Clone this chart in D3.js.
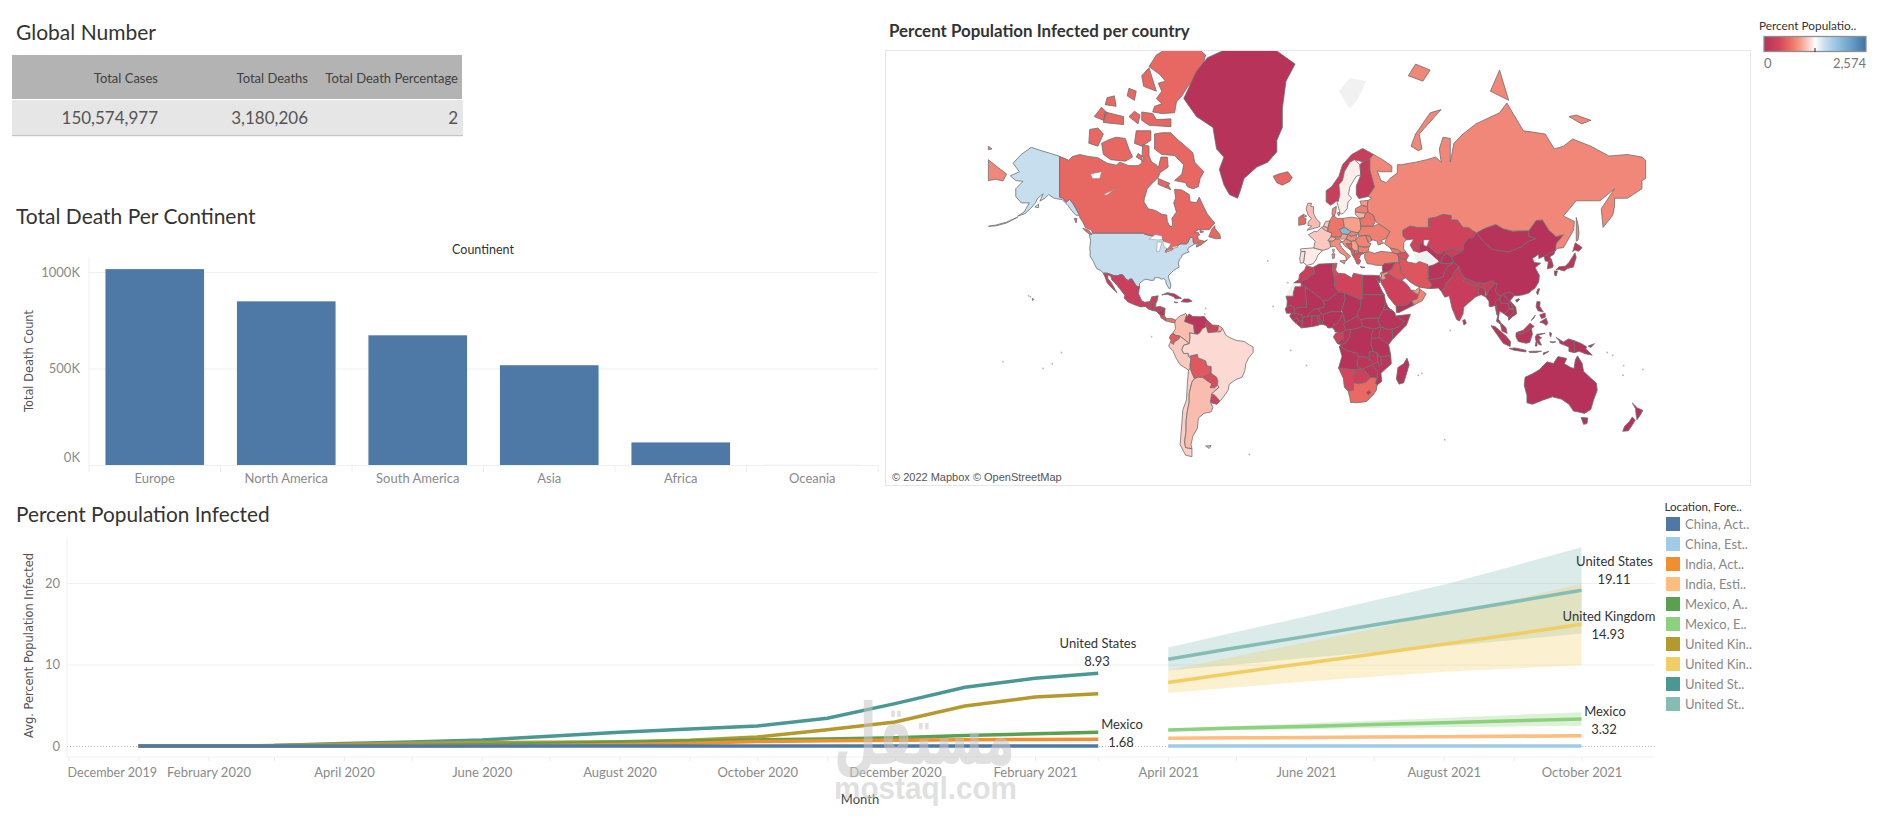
<!DOCTYPE html>
<html><head><meta charset="utf-8">
<script src="https://cdn.jsdelivr.net/npm/d3@7/dist/d3.min.js"></script>
<style>
html,body{margin:0;padding:0;background:#fff}
svg{display:block}
text{font-family:Lato,"Noto Sans",sans-serif}
.tick text{font-size:13px;fill:#8a8a8a;font-family:Lato,sans-serif}
.wide{font-family:"DejaVu Sans",sans-serif;font-size:11.4px;fill:#555}
</style></head><body>
<svg id="c" width="1881" height="825"></svg>
<script>
// ---------- table ----------
const tableHeaders = ["Total Cases","Total Deaths","Total Death Percentage"];
const tableValues = ["150,574,977","3,180,206","2"];
// ---------- bars ----------
const continents = ["Europe","North America","South America","Asia","Africa","Oceania"];
const totalDeaths = [1015000,848000,672000,517000,117000,200];
const barTicks = [0,500000,1000000];
// ---------- lines ----------
const actualMonths = ["2020-01","2020-02","2020-03","2020-04","2020-05","2020-06","2020-07","2020-08","2020-09","2020-10","2020-11","2020-12","2021-01","2021-02","2021-03"];
const forecastMonths = ["2021-04","2021-05","2021-06","2021-07","2021-08","2021-09","2021-10"];
const usActual = [0,0,0.05,0.3,0.5,0.74,1.2,1.7,2.1,2.45,3.4,5.2,7.2,8.3,8.93];
const ukActual = [0,0,0.05,0.22,0.35,0.42,0.46,0.52,0.7,1.1,2.0,2.95,4.9,6.0,6.4];
const mexicoActual = [0,0,0,0.01,0.05,0.15,0.3,0.45,0.6,0.75,0.85,1.0,1.3,1.5,1.68];
const indiaActual = [0,0,0,0,0.01,0.03,0.07,0.18,0.35,0.55,0.65,0.72,0.78,0.8,0.83];
const chinaActual = [0,0.01,0.01,0.01,0.01,0.01,0.01,0.01,0.01,0.01,0.01,0.01,0.01,0.01,0.01];
const usEst = [10.65,12.05,13.45,14.85,16.25,17.7,19.11];
const usHigh = [12.1,14.0,15.9,17.85,19.8,22.1,24.4];
const usLow = [9.26,10.0,10.8,11.5,12.2,13.0,13.8];
const ukEst = [7.8,9.0,10.15,11.3,12.5,13.7,14.93];
const ukHigh = [9.3,11.0,12.7,14.4,16.2,18.0,19.9];
const ukLow = [6.5,7.2,7.9,8.5,9.1,9.5,9.9];
const mexicoEst = [1.97,2.2,2.4,2.65,2.85,3.1,3.32];
const mexicoHigh = [2.1,2.45,2.8,3.1,3.45,3.8,4.14];
const mexicoLow = [1.85,1.95,2.05,2.2,2.3,2.4,2.5];
const indiaEst = [0.94,1.0,1.05,1.1,1.15,1.2,1.27];
const indiaHigh = [1.0,1.1,1.2,1.3,1.35,1.4,1.5];
const indiaLow = [0.88,0.9,0.95,0.98,1.0,1.03,1.05];
const chinaEst = [0.01,0.01,0.01,0.01,0.01,0.01,0.01];
const lineLegend = ["China, Act..","China, Est..","India, Act..","India, Esti..","Mexico, A..","Mexico, E..","United Kin..","United Kin..","United St..","United St.."];
const lineColors = ["#4e79a7","#a0cbe8","#f28e2b","#ffbe7d","#59a14f","#8cd17d","#b6992d","#f1ce63","#499894","#86bcb6"];
// ---------- map: value per country and outline as [lon,lat] rings ----------
const noData = -1;
const countryValues = {USA:1540,Canada:620,Greenland:20,Iceland:620,Mexico:260,Guatemala:200,Belize:300,Honduras:220,Nicaragua:60,Salvador:200,CostaRica:480,Panama:700,Cuba:120,Hispaniola:60,Colombia:1040,Venezuela:60,Guyana:300,Suriname:340,FrGuiana:1000,Ecuador:540,Peru:1100,Bolivia:520,Paraguay:440,Uruguay:340,Chile:1120,Argentina:1040,Brazil:1160,Morocco:240,WSahara:noData,Algeria:40,Tunisia:420,Libya:350,Egypt:30,Mauritania:60,Mali:10,Niger:5,Chad:5,Sudan:20,SSudan:20,Ethiopia:50,Eritrea:30,Somalia:20,Kenya:60,Uganda:20,Tanzania:5,DRC:10,Congo:60,Gabon:300,Cameroon:60,CAR:20,Nigeria:10,Benin:30,Togo:30,Ghana:50,Burkina:10,Ivory:30,Liberia:10,Leone:10,Guinea:20,Senegal:60,Angola:20,Zambia:90,Malawi:40,Mozambique:60,Zimbabwe:60,Botswana:290,Namibia:390,SouthAfrica:640,Lesotho:90,Madagascar:40,Spain:1220,Portugal:1180,France:1090,Belgium:1000,Netherlands:1080,Germany:700,Switzerland:1000,Austria:930,Italy:830,Denmark:800,UK:1040,Ireland:640,Norway:240,Sweden:1230,Finland:180,Estonia:900,Latvia:760,Lithuania:1000,Poland:920,Czechia:1950,Slovakia:800,Hungary:820,Romania:780,Bulgaria:760,Ukraine:760,Moldova:760,Belarus:700,Croatia:830,Bosnia:600,Serbia:920,Albania:540,NMacedonia:740,Greece:500,Turkey:760,Georgia:720,Azerbaijan:470,Iran:500,Iraq:500,Syria:40,Israel:1250,Jordan:880,SaudiArabia:300,Yemen:5,Oman:780,UAE:900,Kazakhstan:330,Uzbekistan:40,Turkmenistan:noData,Kyrgyzstan:250,Tajikistan:30,Afghanistan:40,Pakistan:70,India:230,Nepal:230,Bangladesh:90,SriLanka:70,China:8,Mongolia:30,Russia:800,Japan:90,SouthKorea:60,NorthKorea:2,Myanmar:30,Thailand:20,Laos:5,Vietnam:5,Cambodia:5,Malaysia:120,Indonesia:60,PNG:10,Philippines:60,Australia:10,NewZealand:8,Svalbard:noData};
const countryRings = {
USA:[[[-124.7,48.4],[-123,49],[-95.2,49],[-94.6,48.7],[-91.5,48.1],[-89.6,48],[-88.4,48.3],[-84.9,46.9],[-84.5,46.5],[-83.6,46.1],[-82.5,45.3],[-82.1,43.6],[-82.5,42.6],[-83.1,42.2],[-82.7,41.7],[-79,42.8],[-79.2,43.4],[-76.8,43.6],[-76.3,44.2],[-75,45],[-71.5,45],[-70.8,45.4],[-70.3,46.2],[-70,46.7],[-69.2,47.45],[-68.3,47.35],[-67.8,47.05],[-67.8,45.7],[-67,44.9],[-68.5,44.3],[-70,43.7],[-70.7,43],[-70.7,42.2],[-70,41.8],[-71.4,41.4],[-73.9,40.6],[-74.1,39.7],[-75.1,38.9],[-75.9,37.2],[-75.9,36.6],[-75.5,35.2],[-76.9,34.6],[-78.5,33.8],[-79.9,32.6],[-81.2,31.6],[-81.4,30.4],[-80.5,28.4],[-80,26.8],[-80.4,25.2],[-81.1,25.2],[-81.8,26.2],[-82.7,27.8],[-82.8,29],[-84,30.1],[-85.3,29.7],[-86.5,30.4],[-89,30.4],[-89.4,29.2],[-90.8,29.1],[-93.8,29.7],[-95,29.2],[-97.2,27.7],[-97.2,25.95],[-99.1,26.4],[-100.3,28.3],[-101.4,29.77],[-102.7,29.7],[-103.3,29],[-104.5,29.6],[-106.5,31.75],[-108.2,31.78],[-108.2,31.33],[-111.07,31.33],[-114.8,32.5],[-117.1,32.53],[-118.4,33.75],[-120.6,34.55],[-121.9,36.6],[-122.5,37.8],[-123.8,39.3],[-124.4,40.4],[-124.2,42],[-124.5,43],[-124,46.3]],
[[-141,69.65],[-141,60.3],[-139,60],[-137.5,58.9],[-135.5,59.7],[-133.5,58.4],[-131,56],[-130,55],[-132,55],[-134.5,56.5],[-136.5,58],[-139.5,59.6],[-144,60],[-147,61],[-149,60],[-151.8,59.2],[-150,61.2],[-153,60],[-154.5,58.5],[-157,57],[-160,55.5],[-164,54.7],[-160.5,56],[-157.5,58.7],[-162,58.7],[-165,60.5],[-165,62.5],[-161,64.3],[-165,64.5],[-168,65.6],[-163,66.5],[-166.5,68.3],[-162,70],[-156.5,71.3],[-152,70.8],[-146,70.2]],
[[-164,54.4],[-170,52.8],[-176,51.8],[-180,51.4],[-176,51.5],[-170,52.5]],[[-156,20.2],[-155,19.7],[-155.8,19]],[[-154.5,57.5],[-152.5,58.4],[-152.5,57.3]]],
Canada:[[[-141,69.65],[-136,68.9],[-134,69.6],[-130,70],[-125,69.6],[-120,69.4],[-115,68.3],[-110,67.9],[-108,68.5],[-103,67.8],[-98,67.8],[-96,68.3],[-95.5,71.8],[-92,71.5],[-92,69.7],[-90.5,68.5],[-88,68],[-87,67.3],[-85.5,69.5],[-82,69.5],[-81.5,67.5],[-86,66.3],[-87,65.2],[-90,64],[-93,62.5],[-94.5,60],[-94.8,59],[-92.5,57],[-88.5,56.5],[-85,55.3],[-82.3,55.1],[-82,53],[-80.5,51.3],[-79,51.5],[-79.5,54],[-77,56],[-78.5,58.7],[-77.5,60],[-78,62.4],[-74,62.2],[-70,61],[-69.5,59],[-66,58.8],[-64.5,60.3],[-62,57.5],[-60,55.3],[-56,52.5],[-59,50.2],[-65,50.2],[-67,49.3],[-65,49.2],[-64.3,48.3],[-65.5,47.9],[-64.8,46.5],[-61.5,46],[-60,46.5],[-63.5,44.6],[-66,43.7],[-66,44.6],[-64.5,45.5],[-67,44.9],[-67.8,45.7],[-67.8,47.05],[-68.3,47.35],[-69.2,47.45],[-70,46.7],[-70.3,46.2],[-70.8,45.4],[-71.5,45],[-75,45],[-76.3,44.2],[-76.8,43.6],[-79.2,43.4],[-79,42.8],[-82.7,41.7],[-83.1,42.2],[-82.5,42.6],[-82.1,43.6],[-82.5,45.3],[-83.6,46.1],[-84.5,46.5],[-84.9,46.9],[-88.4,48.3],[-89.6,48],[-91.5,48.1],[-94.6,48.7],[-95.2,49],[-123,49],[-123.5,50],[-127,51],[-128,52.5],[-130,54.3],[-130,55],[-131,56],[-133.5,58.4],[-135.5,59.7],[-137.5,58.9],[-139,60],[-141,60.3]],
[[-80,73.7],[-77,72.8],[-72,71.5],[-68,70.3],[-67,68.5],[-62,66.5],[-64,65],[-65,63],[-68,62.5],[-71,63],[-72,64],[-78,64.5],[-74,66],[-73,68],[-78,69.8],[-85,70],[-89,71],[-89,73.5],[-85,73.7],[-81,73.7]],
[[-117,70],[-113,69],[-105,68.7],[-101,69.5],[-103,71],[-105,72.8],[-110,73],[-114,72.6],[-118,72]],[[-125,72],[-120,71.5],[-117,73.5],[-120,74.4],[-124.5,74.2]],
[[-90,76.6],[-85,76.4],[-78,76.5],[-77,77.8],[-74,78.5],[-71,79.4],[-66,80.5],[-63,81.2],[-61,82.2],[-68,83],[-78,83],[-88,82.2],[-92,81.3],[-86,80.6],[-83,80],[-87,79.8],[-85,79],[-88,78.2],[-85,77.6],[-89,77.3]],
[[-96,75.5],[-92,74.8],[-80,74.6],[-80,75.7],[-88,75.6],[-90,76.4],[-96,76.6]],[[-95,79.5],[-88,79],[-92,81.2],[-96,80.5]],[[-117,75.2],[-106,74.9],[-106,76],[-116,76.6]],[[-100,72],[-96,71.5],[-91,72.5],[-91,74],[-99,74]],[[-87,65],[-80.5,63.8],[-83,62.8],[-87,63.6]],[[-103,76],[-98,75],[-97,76.2],[-100,76.7]],[[-122,76],[-117,75.5],[-115,76.5],[-118,77.2]],[[-104,78.5],[-100,78],[-99,79],[-103,79.3]],[[-116,77.5],[-110,77.3],[-111,78.5],[-115,78.3]],[[-99,69.5],[-95.5,68.8],[-95,69.5],[-98,70.2]],[[-83,62.9],[-80,62.2],[-81.5,63.5]],
[[-59.3,47.7],[-55.5,46.9],[-52.8,47],[-53.2,48.5],[-55.8,50.5],[-56,51.6],[-57.5,50.5]],[[-128.3,50.7],[-125,50],[-123.4,48.4],[-125,48.8],[-127,49.8]],[[-133,54],[-131.5,54],[-132,52.5]],[[-64,50],[-62,49.4],[-64,49.2]]],
Greenland:[[[-73,78.2],[-66,80.9],[-60,82],[-45,82.9],[-32,83.6],[-22,82.5],[-12,81.5],[-17,80],[-19,77],[-19,74.5],[-22,72.5],[-22,70.5],[-27,68.5],[-33,67.5],[-40,65],[-42,62],[-43.5,60],[-48,61],[-51,63.5],[-53.5,67],[-51,69.5],[-55,71],[-57,74.5],[-66,76]]],
Iceland:[[[-24,65.5],[-22,64],[-19,63.4],[-15,64.3],[-13.6,65.2],[-16,66.5],[-21,66]]],
Mexico:[[[-117.1,32.53],[-114.8,32.5],[-111.07,31.33],[-108.2,31.33],[-108.2,31.78],[-106.5,31.75],[-104.5,29.6],[-103.3,29],[-102.7,29.7],[-101.4,29.77],[-100.3,28.3],[-99.1,26.4],[-97.2,25.95],[-97.8,22.5],[-96,19],[-94.5,18.2],[-91.5,18.5],[-90.5,21],[-87,21.5],[-87.8,18.2],[-89.1,17.9],[-91,17.2],[-90.9,16],[-92.2,14.55],[-94,16],[-96.5,15.7],[-100,16.9],[-103.5,18.3],[-105.6,20.4],[-105.3,21.8],[-108,25],[-109.5,26.7],[-112.5,29.5],[-113,31.2],[-114.7,31.7],[-114.5,30],[-112.5,27.8],[-110.5,24.5],[-109.5,23.1],[-112,25],[-115,28],[-116,30.5]]],
Guatemala:[[[-92.2,14.55],[-90.9,16],[-91,17.2],[-89.1,17.9],[-89.2,15.9],[-88.2,15.7],[-89.3,14.4],[-90.1,13.8]]],Belize:[[[-89.1,17.9],[-88.2,18.4],[-88.3,16.2],[-89.2,15.9]]],
Honduras:[[[-89.3,14.4],[-88.2,15.7],[-86,16],[-83.2,15],[-85,14],[-87.5,13]]],Nicaragua:[[[-87.5,13],[-85,14],[-83.2,15],[-83.6,11],[-85.7,11]]],Salvador:[[[-90.1,13.8],[-89.3,14.4],[-87.7,13.4]]],
CostaRica:[[[-85.7,11],[-83.6,11],[-82.6,9.6],[-83,8.3],[-85.5,10]]],Panama:[[[-83,8.3],[-82.6,9.6],[-79.5,9.5],[-77.4,8.7],[-77.9,7.2],[-80,7.5],[-81,7.8]]],
Cuba:[[[-85,21.9],[-82,23.1],[-78,22.4],[-74.2,20.2],[-77.5,19.9],[-78.5,21],[-82,22.3]]],Hispaniola:[[[-74.4,18.4],[-73,19.9],[-70,19.8],[-68.4,18.6],[-71,18.2]],[[-78.3,18.4],[-76.3,18.1],[-77.2,17.8]]],
Colombia:[[[-77.4,8.7],[-75.5,10.7],[-72,12.2],[-71.3,11.5],[-72.5,8],[-70,7],[-67.5,6.2],[-67.3,3.5],[-67,1.2],[-69.8,1.7],[-69.5,-0.6],[-70,-4.2],[-72,-2.4],[-75.2,-0.1],[-77.5,0.4],[-79,1.5],[-77.5,4],[-77.9,7.2]]],
Venezuela:[[[-71.3,11.5],[-71.7,10],[-70,12],[-68,10.6],[-64,10.5],[-61.8,10.7],[-60.1,8.5],[-61,6.5],[-60.7,5.2],[-63,3.8],[-64,1.9],[-65.5,0.9],[-67,1.2],[-67.3,3.5],[-67.5,6.2],[-70,7],[-72.5,8]]],
Guyana:[[[-60.1,8.5],[-57.2,6],[-58,4],[-57.3,2],[-59.7,1.8],[-60.7,5.2],[-61,6.5]]],Suriname:[[[-57.2,6],[-54,5.8],[-54.4,2.3],[-57.3,2],[-58,4]]],FrGuiana:[[[-54,5.8],[-51.7,4.2],[-52.9,2.2],[-54.4,2.3]]],
Ecuador:[[[-80.9,-1],[-80,0.8],[-79,1.5],[-77.5,0.4],[-75.2,-0.1],[-75.6,-1.6],[-78.3,-3.4],[-78.6,-4.6],[-80.3,-3.4],[-80,-2.5]]],
Peru:[[[-80.3,-3.4],[-78.6,-4.6],[-78.3,-3.4],[-75.6,-1.6],[-75.2,-0.1],[-72,-2.4],[-70,-4.2],[-73,-5],[-74,-7.5],[-73,-9.5],[-70.5,-9.5],[-70.5,-11],[-69,-12.5],[-69.5,-15.5],[-69.4,-17.5],[-70.4,-18.3],[-75,-15.5],[-77.2,-12],[-79,-8],[-81.3,-5.5]]],
Bolivia:[[[-69.5,-10.9],[-65.5,-10],[-65.3,-11.8],[-61,-13.5],[-60.2,-16.2],[-58,-16.5],[-58,-20],[-62.5,-22.2],[-65,-22],[-67.2,-22.8],[-68.5,-20],[-69.4,-17.5],[-69.5,-15.5],[-69,-12.5]]],
Paraguay:[[[-58,-20],[-55,-22],[-54.3,-24],[-54.6,-25.6],[-56,-27.3],[-58.6,-27.2],[-57.6,-25.3],[-60,-24],[-62.5,-22.2]]],
Uruguay:[[[-58.4,-33.9],[-57.7,-30.2],[-56,-30.8],[-53.2,-33.5],[-54.9,-35],[-58.4,-34.2]]],
Chile:[[[-69.4,-17.5],[-68.5,-20],[-67.2,-22.8],[-68.5,-24.5],[-70,-30],[-70,-34],[-71,-38],[-71.7,-42],[-71.7,-46],[-72.5,-50],[-72,-52],[-68.5,-52.4],[-68.5,-55],[-72,-54.5],[-75,-51],[-74,-43],[-73.5,-37.5],[-71.5,-33],[-71,-25],[-70.4,-18.3]]],
Argentina:[[[-67.2,-22.8],[-65,-22],[-62.5,-22.2],[-60,-24],[-57.6,-25.3],[-58.6,-27.2],[-56,-27.3],[-54.6,-25.6],[-53.7,-27],[-57.7,-30.2],[-58.4,-33.9],[-57,-36.5],[-58,-38.3],[-62,-39],[-65,-41],[-65.5,-45],[-68,-48],[-69,-51],[-68.5,-52.4],[-72,-52],[-72.5,-50],[-71.7,-46],[-71.7,-42],[-71,-38],[-70,-34],[-70,-30],[-68.5,-24.5]],[[-61,-51.5],[-58,-51.3],[-59,-52.3]]],
Brazil:[[[-60.7,5.2],[-59.7,1.8],[-57.3,2],[-54.4,2.3],[-52.9,2.2],[-51.7,4.2],[-50,0.5],[-48,-0.8],[-44,-2.5],[-40,-2.9],[-37,-4.9],[-35,-6],[-35,-9],[-37.5,-12],[-39,-15],[-39.5,-18.5],[-41,-22],[-44.5,-23.2],[-48,-25.5],[-48.7,-28.5],[-52,-32.5],[-53.2,-33.5],[-56,-30.8],[-57.7,-30.2],[-53.7,-27],[-54.6,-25.6],[-54.3,-24],[-55,-22],[-58,-20],[-58,-16.5],[-60.2,-16.2],[-61,-13.5],[-65.3,-11.8],[-65.5,-10],[-69.5,-10.9],[-70.5,-11],[-70.5,-9.5],[-73,-9.5],[-74,-7.5],[-73,-5],[-70,-4.2],[-69.5,-0.6],[-69.8,1.7],[-67,1.2],[-65.5,0.9],[-64,1.9],[-63,3.8]]],
Morocco:[[[-5.9,35.8],[-2.2,35.1],[-1.2,32.5],[-3.5,31.5],[-5,30],[-8.7,28.7],[-8.7,27.7],[-13,27.7],[-10,29.5],[-9.5,32],[-6.8,34]]],
WSahara:[[[-13,27.7],[-8.7,27.7],[-8.7,26],[-12,26],[-13,23],[-13,21.3],[-17,21.3],[-16,23.5],[-14.5,26]]],
Algeria:[[[-2.2,35.1],[1,36.6],[8.6,36.9],[8.3,34.5],[9.5,30.2],[9.8,26],[11.9,23.5],[6,19.4],[3.3,19],[1.2,20.7],[-4.8,25],[-8.7,27.3],[-8.7,28.7],[-5,30],[-3.5,31.5],[-1.2,32.5]]],
Tunisia:[[[8.6,36.9],[11,37],[10.2,34],[11.5,32.5],[9.5,30.2],[8.3,34.5]]],
Libya:[[[11.5,32.5],[15.3,32.2],[19,30.3],[20,32.5],[25,31.6],[25,20],[24,19.5],[15,23],[11.9,23.5],[9.8,26],[9.5,30.2]]],
Egypt:[[[25,31.6],[31,31.5],[34.2,31.3],[34.9,29.5],[34,27.8],[32.6,29.9],[35.5,24],[36.9,22],[25,22]]],
Mauritania:[[[-17,21.3],[-13,21.3],[-13,23],[-12,26],[-8.7,26],[-8.7,27.3],[-4.8,25],[-6.5,25],[-5.5,15.5],[-9.3,15.5],[-12.2,14.7],[-14.5,16.6],[-16.5,16],[-16.3,19]]],
Mali:[[[-4.8,25],[1.2,20.7],[3.3,19],[4.2,16.8],[3.5,15.4],[0.2,14.9],[-2,14.2],[-4.5,12],[-5.5,10.5],[-8,10.2],[-8.5,11.5],[-12.2,12.4],[-12.2,14.7],[-9.3,15.5],[-5.5,15.5],[-6.5,25]]],
Niger:[[[3.5,15.4],[4.2,16.8],[3.3,19],[6,19.4],[11.9,23.5],[15,23],[15.5,20],[13.5,14],[13,13.3],[7,13],[3.6,11.7],[2.4,12.2],[0.2,14.9]]],
Chad:[[[15,23],[24,19.5],[24,15.7],[22.5,13],[22,11],[19,9],[15.5,7.5],[14,12.5],[13.5,14],[15.5,20]]],
Sudan:[[[24,19.5],[25,20],[25,22],[36.9,22],[37.5,18.5],[36.5,14.3],[34.2,10.5],[33,9.7],[31,9.7],[27,9.7],[24,8.7],[22,11],[22.5,13],[24,15.7]]],
SSudan:[[[24,8.7],[27,9.7],[33,9.7],[34.2,10.5],[33.5,7.8],[35,5],[31,3.7],[28,4.5],[25,5.2]]],
Eritrea:[[[36.5,14.3],[37.5,18.5],[39,15.5],[42.7,12.5],[41,14]]],
Ethiopia:[[[36.5,14.3],[41,14],[42.7,12.5],[43,10.9],[47.9,8],[45,5],[42,4],[39,3.5],[35,5],[33.5,7.8],[34.2,10.5]]],
Somalia:[[[43,10.9],[51.2,11.8],[49,6],[41.5,-1.7],[41,3.8],[42,4],[45,5],[47.9,8]]],
Kenya:[[[35,5],[39,3.5],[42,4],[41,3.8],[41.5,-1.7],[39.2,-4.7],[34,-1],[34,1]]],
Uganda:[[[31,3.7],[35,5],[34,1],[34,-1],[29.7,-1.4],[30,1.5]]],
Tanzania:[[[34,-1],[39.2,-4.7],[40.4,-10.5],[34.9,-11.5],[32.9,-9.4],[30.7,-8.2],[29.5,-4.5],[29.7,-1.4]]],
DRC:[[[12.2,-6],[13,-4.8],[16,-3.5],[17.7,-0.5],[18.5,3.5],[22,4.2],[25,5.2],[28,4.5],[31,3.7],[30,1.5],[29.7,-1.4],[29.5,-4.5],[30.7,-8.2],[28.5,-9],[28.5,-12],[29.8,-13.4],[27.2,-11.7],[24,-11],[22,-11],[22,-9.5],[16.5,-8],[13,-5.8]]],
Congo:[[[11.2,-4.2],[13,-4.8],[16,-3.5],[17.7,-0.5],[18.5,3.5],[16,3.4],[14,2.2],[14.5,-1.5],[12.5,-2.3]]],
Gabon:[[[9,-0.5],[9.8,1],[11.3,2.2],[14,2.2],[14.5,-1.5],[12.5,-2.3],[11.2,-4.2]]],
Cameroon:[[[8.5,4.5],[9.8,3],[9.8,2.2],[14,2.2],[16,3.4],[14.5,6.2],[15.5,7.5],[14,12.5],[13,10],[11,6.7],[9,6.3]]],
CAR:[[[14.5,6.2],[16,3.4],[18.5,3.5],[22,4.2],[25,5.2],[24,8.7],[22,11],[19,9],[15.5,7.5]]],
Nigeria:[[[2.7,6.4],[5,5.8],[6,4.4],[8.5,4.5],[9,6.3],[11,6.7],[13,10],[14,12.5],[13,13.3],[7,13],[3.6,11.7],[3.6,9]]],
Benin:[[[1.7,6.3],[2.7,6.4],[3.6,9],[3.6,11.7],[2.4,12.2],[0.9,11],[1.6,9]]],Togo:[[[0.9,11],[1.6,9],[1.7,6.3],[1.2,6.1],[0.5,8.5],[0.1,11.1]]],
Ghana:[[[-3,5.1],[0.5,5.8],[1.2,6.1],[0.5,8.5],[0.1,11.1],[-2.8,11],[-2.9,8]]],Burkina:[[[-5.5,10.5],[-4.5,12],[-2,14.2],[0.2,14.9],[2.4,12.2],[0.9,11],[-2.8,11]]],
Ivory:[[[-8.5,4.4],[-3,5.1],[-2.9,8],[-2.8,11],[-5.5,10.5],[-8,10.2],[-8,7.7]]],Liberia:[[[-11.5,6.9],[-8.5,4.4],[-8,7.7],[-10,8.5]]],Leone:[[[-13.2,8.5],[-11.5,6.9],[-10,8.5],[-11,10]]],
Guinea:[[[-15,10.9],[-13.2,8.5],[-11,10],[-10,8.5],[-8,7.7],[-8,10.2],[-8.5,11.5],[-12.2,12.4],[-13.7,12.6]]],Senegal:[[[-17.4,14.7],[-16.5,16],[-14.5,16.6],[-12.2,14.7],[-12.2,12.4],[-16.7,12.4]]],
Angola:[[[12.2,-6],[13,-5.8],[16.5,-8],[22,-9.5],[22,-11],[24,-11],[22,-13],[22,-16],[23.3,-17.6],[20.9,-18.3],[14,-17.4],[11.8,-17.3],[13.7,-11]]],
Zambia:[[[24,-11],[27.2,-11.7],[29.8,-13.4],[28.5,-12],[28.5,-9],[30.7,-8.2],[32.9,-9.4],[33.2,-14],[30.2,-15.6],[28,-16.5],[25.2,-17.8],[23.3,-17.6],[22,-16],[22,-13]]],
Malawi:[[[32.9,-9.4],[34.9,-11.5],[35.5,-15],[34.3,-16.5],[33.2,-14]]],
Mozambique:[[[34.9,-11.5],[40.4,-10.5],[40.7,-15],[35,-20],[35.5,-24],[32.9,-26],[32,-25],[32.9,-22.4],[33,-19],[30.2,-15.6],[33.2,-14],[34.3,-16.5],[35.5,-15]]],
Zimbabwe:[[[25.2,-17.8],[28,-16.5],[30.2,-15.6],[33,-19],[32.9,-22.4],[29.3,-22.2]]],
Botswana:[[[20.9,-18.3],[23.3,-17.6],[25.2,-17.8],[29.3,-22.2],[26.5,-24.7],[23,-25.3],[20,-24.8],[20,-22]]],
Namibia:[[[11.8,-17.3],[14,-17.4],[20.9,-18.3],[20,-22],[20,-28.4],[17,-28.8],[15,-27],[14.4,-22.5]]],
SouthAfrica:[[[17,-28.8],[20,-28.4],[20,-24.8],[23,-25.3],[26.5,-24.7],[29.3,-22.2],[32.9,-22.4],[32,-25],[32.9,-26],[32.5,-28.5],[30.5,-31],[27,-33.8],[22,-34.3],[18.4,-34.2],[18,-32]]],
Lesotho:[[[27.2,-29.5],[28.6,-28.6],[29.4,-29.6],[28,-30.6]]],
Madagascar:[[[49.3,-12],[50.5,-15.5],[47.5,-24.8],[45,-25.5],[43.5,-23],[44.3,-17],[47.5,-15]]],
Spain:[[[-9,43],[-1.8,43.4],[3.2,42.4],[0.5,40.5],[-0.3,38.8],[-2,36.8],[-5.5,36],[-7.4,37.2],[-7,39.5],[-6.5,42],[-8.8,41.9]]],
Portugal:[[[-8.8,41.9],[-6.5,42],[-7,39.5],[-7.4,37.2],[-9,37],[-9.5,38.8]]],
France:[[[-1.8,43.4],[3.2,42.4],[6,43],[7.5,43.8],[7,46],[6,46.2],[7.6,47.6],[8.2,49],[6,49.6],[4.5,50],[2.5,51],[0,49.5],[-1.5,49.6],[-4.7,48.4],[-1,46]],[[8.6,42.9],[9.5,42.8],[9.2,41.4],[8.7,41.8]]],
Belgium:[[[2.5,51],[4.5,50],[6,49.6],[6,50.8],[4,51.4]]],Netherlands:[[[3.5,51.4],[4,51.4],[6,50.8],[7,53.2],[4.7,53]]],
Germany:[[[6,50.8],[6,49.6],[8.2,49],[7.6,47.6],[9.6,47.5],[13,47.5],[13.8,48.8],[12.2,50.2],[15,51],[14.2,54],[11,54],[9.5,54.8],[8.5,54.8],[7,53.2]]],
Switzerland:[[[6,46.2],[7.6,47.6],[9.6,47.5],[10.4,46.8],[8.5,46],[7,46]]],Austria:[[[9.6,47.5],[13,47.5],[13.8,48.8],[17,48.5],[16,46.8],[12,46.8],[10.4,46.8]]],
Italy:[[[7.5,43.8],[10,44],[12.5,41.5],[15.8,40],[16,38],[17,39],[18.4,40],[16,41.5],[13.5,43.6],[12.3,45.3],[13.7,45.7],[12,46.8],[10.4,46.8],[8.5,46],[7,46]],[[12.5,38],[15.6,38.2],[15,36.7]],[[8.2,41],[9.8,41],[9.5,39.2],[8.5,39]]],
Denmark:[[[8.2,55.5],[8.5,57],[10.6,57.7],[10.3,56],[9.5,54.8],[8.5,54.8]],[[11,55.7],[12.6,56],[12,54.8]]],
UK:[[[-5.5,50],[1.4,51.2],[1.7,52.7],[0,53.5],[-1.5,55],[-2,56],[-1.9,57.6],[-3.5,57.7],[-3,58.6],[-5,58.6],[-6,57],[-4.8,55],[-3,54],[-4.8,52.8],[-5,51.7],[-3,51.4]],[[-8,54.4],[-5.6,54.7],[-7.3,55.3]]],
Ireland:[[[-10,51.7],[-6.2,52.2],[-6,54],[-8,54.4],[-7.3,55.3],[-10,54.3]]],
Norway:[[[5,59],[7.5,58],[10.5,59.2],[11.7,59.2],[12.5,61],[12,63.5],[14,64.5],[15,66.5],[18,68.5],[20.5,69],[25,68.6],[29,69.2],[31,70],[25,71.1],[19,70],[14,68],[12,65.5],[8,63],[5,62]]],
Sweden:[[[11.7,59.2],[11,58.8],[12.8,55.4],[14.3,55.5],[16.5,57],[17,59],[19,60],[17.2,61],[18,63],[21.5,65.5],[24,65.8],[23.5,68],[20.5,69],[18,68.5],[15,66.5],[14,64.5],[12,63.5],[12.5,61]]],
Finland:[[[24,65.8],[21.5,63.2],[21.5,61],[23,59.9],[28,60.5],[31.5,62.9],[29,66.9],[29,69.2],[25,68.6],[23.5,68]]],
Estonia:[[[23.5,59.2],[28,59.4],[27.5,57.6],[24.3,58]]],Latvia:[[[21,57],[24.3,58],[27.5,57.6],[28,56],[26.6,55.6],[21,56]]],Lithuania:[[[21,56],[26.6,55.6],[25.8,54.2],[23.5,54],[21,55.2]]],
Poland:[[[14.2,54],[19,54.4],[23.5,54],[24,51.5],[24,50.5],[22.7,49.1],[18.8,49.5],[15,51]]],
Czechia:[[[12.2,50.2],[15,51],[18.8,49.5],[17,48.5],[13.8,48.8]]],Slovakia:[[[17,48.5],[18.8,49.5],[22.7,49.1],[22,48.4],[18.7,47.8]]],
Hungary:[[[16,46.8],[17,48.5],[18.7,47.8],[22,48.4],[21,46.2],[18.8,45.9]]],Romania:[[[21,46.2],[22.8,47.9],[26.6,48.2],[28.2,45.5],[29.6,45],[28.5,43.7],[25,43.7],[22.5,44.2]]],
Bulgaria:[[[22.5,44.2],[25,43.7],[28.5,43.7],[28,42],[26,41.4],[23,41.4],[22.5,42.2]]],
Ukraine:[[[22.7,49.1],[24,50.5],[24,51.5],[30.5,51.4],[34,52.2],[40,49.6],[38,47.1],[35,46.2],[36.5,45.3],[33.5,44.5],[33,46],[30.7,46.5],[30,46.4],[29,47.9],[26.6,48.2],[22.8,47.9]]],
Moldova:[[[26.6,48.2],[29,47.9],[30,46.4],[28.2,45.5]]],Belarus:[[[23.5,54],[25.8,54.2],[26.6,55.6],[28,56],[31,55],[32,53],[30.5,51.4],[24,51.5]]],
Croatia:[[[13.7,45.7],[16,46.8],[18.8,45.9],[19,45],[16,45],[18.5,42.5],[15,44.3]]],Bosnia:[[[16,45],[19,45],[19,43.5],[18.5,42.5]]],Serbia:[[[18.8,45.9],[21,46.2],[22.5,44.2],[22.5,42.2],[20.5,42.2],[19,43.5],[19,45]]],
Albania:[[[18.5,42.5],[19,43.5],[20.5,42.2],[20.7,40.8],[20,39.7],[19.3,40.5]]],NMacedonia:[[[20.5,42.2],[22.5,42.2],[23,41.4],[20.7,40.8]]],
Greece:[[[20,39.7],[20.7,40.8],[23,41.4],[26,41.4],[24,40.5],[23,39],[24,38],[23,36.5],[21.7,36.8],[21,38.3]],[[23.6,35.5],[26.2,35.2],[24.7,34.9]]],
Turkey:[[[26,39.5],[26.2,41],[28,42],[31.5,41.2],[35,42],[41.5,41.5],[43.7,41],[44.8,39.7],[44.8,37.2],[42.4,37.2],[36.7,36.7],[36,36],[32,36.1],[30.5,36.5],[27.5,36.8]]],
Georgia:[[[40,43.4],[41.5,41.5],[43.7,41],[46.5,41.5],[44,42.8]]],Azerbaijan:[[[44.8,39.7],[43.7,41],[46.5,41.5],[48.6,41.8],[50.3,40.3],[48.9,38.4],[46,38.9]]],
Iran:[[[44.8,39.7],[46,38.9],[48.9,38.4],[49.5,37.5],[54,36.9],[56,38],[61,36.5],[61,35.6],[61,31.5],[61,29.5],[63,27],[61.6,25.1],[57,25.7],[54,26.6],[50.8,28.5],[48.5,30.3],[46,33],[45.5,35.8],[44.8,37.2]]],
Iraq:[[[42.4,37.2],[44.8,37.2],[45.5,35.8],[46,33],[48.5,30.3],[47.7,30],[46.5,29.1],[44.7,29.2],[39,32.2],[38.7,33.3],[41,34.5]]],
Syria:[[[36,36],[36.7,36.7],[42.4,37.2],[41,34.5],[38.7,33.3],[36.2,32.5],[35.7,35]]],Israel:[[[34.3,31.3],[35.1,33],[35.6,33],[35,29.6]]],Jordan:[[[35,29.6],[35.6,33],[36.2,32.5],[38.7,33.3],[39,32.2],[37,31.5],[38,30],[36,29.2]]],
SaudiArabia:[[[34.9,29.5],[36,29.2],[38,30],[37,31.5],[39,32.2],[44.7,29.2],[46.5,29.1],[47.7,28.5],[50,26.5],[51.5,24.3],[55.5,22],[55,20],[52,19],[49,16.8],[43.3,16.5],[42.7,16.7],[39,21],[37,25],[35,28]]],
Yemen:[[[43.3,16.5],[49,16.8],[52,19],[53.1,16.7],[45,12.8],[43.5,12.7]]],Oman:[[[55,20],[55.5,22],[56.3,24.9],[59.8,22.5],[57.7,19],[53.1,16.7],[52,19]]],UAE:[[[51.5,24.3],[54,24.2],[56.3,26],[56.3,24.9],[55.5,22]]],
Kazakhstan:[[[47,50],[47,48],[49,46.5],[53,46.8],[51,44.5],[53,42],[56,41.3],[56,45],[59,45.5],[61,44],[66,41],[68,41],[70,42.5],[71,42.8],[74,43.2],[80,42.3],[80.5,45],[83,47.2],[85.5,47.2],[87.3,49.1],[85,50],[83,51],[80,51],[77,53.5],[73.5,53.5],[73.5,54.9],[69,55.3],[65,54.4],[61,54],[61,51],[55,51],[51,51.5]]],
Uzbekistan:[[[56,41.3],[56,45],[59,45.5],[61,44],[66,41],[68,41],[70,42.5],[71,41.3],[69,40],[67.8,37.2],[66.5,37.4],[66.5,38],[62,41],[60,42.2]]],
Turkmenistan:[[[53,42],[56,41.3],[60,42.2],[62,41],[66.5,38],[66.5,37.4],[64,36.3],[61,35.6],[61,36.5],[56,38],[54,36.9],[53.8,39.5]]],
Kyrgyzstan:[[[70,42.5],[71,42.8],[74,43.2],[80,42.3],[73.7,39.5],[71,41.3]]],Tajikistan:[[[67.8,37.2],[69,40],[71,41.3],[73.7,39.5],[75,37.4],[71.5,36.7],[68,37]]],
Afghanistan:[[[61,35.6],[64,36.3],[66.5,37.4],[68,37],[71.5,36.7],[75,37.4],[71.5,35.5],[70,33.5],[69.2,31],[66.4,29.9],[61,29.5],[61,31.5]]],
Pakistan:[[[61,29.5],[66.4,29.9],[69.2,31],[70,33.5],[71.5,35.5],[75,37.4],[77.8,35.5],[74.5,32.5],[74.5,31],[71,28],[70,25.7],[68.2,23.7],[66.5,25.4],[61.6,25.1],[63,27]]],
India:[[[68.2,23.7],[70,25.7],[71,28],[74.5,31],[74.5,32.5],[77.8,35.5],[79,32.5],[81,30.2],[80.3,28.7],[84,27.4],[88,26.4],[88.3,28],[92,27.8],[96.5,29],[97.3,27.8],[94,24],[93,22],[92,24.5],[91.5,25.2],[89,26],[88.3,24.3],[89,21.8],[87,21],[85,19.5],[80.3,15.5],[80,12],[78,8.2],[76.5,9],[74,15],[72.8,20],[72.5,21.5],[70,20.8],[69,22.3]]],
Nepal:[[[80.3,28.7],[81,30.2],[88,27.8],[88,26.4],[84,27.4]]],Bangladesh:[[[88.3,24.3],[89,26],[91.5,25.2],[92,24.5],[92.3,21],[90,22],[89,21.8]]],SriLanka:[[[79.8,8.5],[81,9],[81.8,7],[80.5,6]]],
China:[[[73.7,39.5],[80,42.3],[80.5,45],[83,47.2],[85.5,47.2],[87.3,49.1],[91,46],[96,42.8],[105,41.7],[111.5,43.7],[116,46],[120,47],[116,47.8],[116,49.8],[120,53.3],[123.5,53.5],[127,50],[131,47.7],[135,48.4],[131,45],[130.6,42.4],[128,41.4],[124.4,40],[121.5,39],[121.5,40.8],[118,39],[119,37.3],[122.5,37],[119.5,35],[121.8,31.5],[121.5,28.5],[119.5,25.5],[116,22.9],[113,22],[109.5,21.5],[108,21.6],[106.7,22.8],[105.3,23.3],[102,22.4],[101.2,21.3],[99.2,22],[97.6,24],[98.7,27.5],[97.3,27.8],[96.5,29],[92,27.8],[88.3,28],[88,27.8],[81,30.2],[79,32.5],[77.8,35.5],[75,37.4]],[[108.7,19.3],[110.5,20],[111,19.6],[109.5,18.2]],[[121,25],[122,25],[120.9,22],[120.2,23]]],
Mongolia:[[[87.3,49.1],[92,50.7],[98,52],[102,50.5],[107,49.7],[113,49.8],[116,49.8],[116,47.8],[120,47],[116,46],[111.5,43.7],[105,41.7],[96,42.8],[91,46]]],
Russia:[[[29,69.2],[31,70],[36,69],[41,67.7],[41,66.5],[35,66.5],[33,66.7],[35,64.5],[38,64],[40,65],[44,66.2],[44,68],[46,68],[54,68.5],[60,69],[65,69.5],[68,68.5],[67,71],[69,73],[73,72.8],[73,68.5],[75,72],[80,73.5],[87,75],[100,76.5],[104,77.7],[113,74],[125,73.5],[130,71],[135,71.5],[140,72.7],[150,71.5],[160,69.7],[170,70],[178,69.5],[180,68.9],[180,65],[178,64.5],[178,62.5],[170,60],[163,60],[163,57.8],[162,55],[156.7,51],[155.7,57],[163,62.5],[155,59.3],[142,59.3],[135,54.8],[141,53],[140.5,50],[135,43.5],[131.7,43.2],[130.6,42.4],[131,45],[135,48.4],[131,47.7],[127,50],[123.5,53.5],[120,53.3],[116,49.8],[113,49.8],[107,49.7],[102,50.5],[98,52],[92,50.7],[87.3,49.1],[85,50],[83,51],[80,51],[77,53.5],[73.5,53.5],[73.5,54.9],[69,55.3],[65,54.4],[61,54],[61,51],[55,51],[51,51.5],[47,50],[47,48],[49,46.5],[47.5,45.5],[47.5,43],[48.6,41.8],[46.5,41.5],[44,42.8],[40,43.4],[37,45],[38,47.1],[40,49.6],[34,52.2],[32,53],[31,55],[28,56],[27.5,57.6],[28,59.4],[30,60],[28,60.5],[31.5,62.9],[29,66.9]],
[[142,54.3],[143,52],[143.5,49],[143,46.5],[142,46],[142,50]],[[51.5,71.5],[55.5,70.7],[57.5,71],[56,73.5],[68,76.9],[62,76.5],[54,73.5]],[[95,79],[105,78],[100,81]],[[-180,69],[-175,67.5],[-170,66],[-172,64.4],[-176,64.8],[-180,64.5]],[[-180,71.5],[-178,71],[-180,70.9]],[[50,80.5],[58,80],[62,81],[54,81.5]],[[138,76],[145,75],[150,75.5],[142,76.2]]],
Japan:[[[130.9,34],[132.5,35.4],[136,35.7],[138,37.3],[140,39.8],[141.3,41.4],[142,39.5],[141,37],[140.5,35.3],[137,34.6],[135.5,33.5],[132.5,34.2]],[[130,33.5],[131.7,33.5],[131,31.2],[130.2,31.5]],[[140,41.8],[141.5,45.4],[145.3,43.5],[143.2,42],[141,42.6]]],
SouthKorea:[[[126.2,34.5],[126.7,37.7],[128.4,38.6],[129.4,36],[129,35.1]]],NorthKorea:[[[124.4,40],[128,41.4],[130.6,42.4],[129.7,40.8],[127.5,39.7],[128.4,38.6],[126.7,37.7],[125,38]]],
Myanmar:[[[92.3,21],[93,22],[94,24],[97.3,27.8],[98.7,27.5],[97.6,24],[99.2,22],[101.2,21.3],[100,20.4],[97.7,18.5],[98.5,15],[99,11],[98.5,11.5],[97.5,16.5],[95.4,15.8],[94.3,16],[94.2,18.7]]],
Thailand:[[[100,20.4],[101,17.7],[104.7,17.5],[105.5,14.5],[102.5,12],[101,13],[100,13.4],[99.3,9.3],[101,6.8],[102,6],[100.5,6.5],[98.3,8],[99,11],[98.5,15],[97.7,18.5]]],
Laos:[[[101.2,21.3],[102,22.4],[104,20],[106.7,17],[107.5,15],[105.5,14.5],[104.7,17.5],[101,17.7],[100,20.4]]],
Vietnam:[[[102,22.4],[105.3,23.3],[106.7,22.8],[108,21.6],[105.8,19],[108.9,15.5],[109.3,12],[106.8,10.3],[105,8.6],[104.8,10.4],[107.5,12.5],[107.5,15],[106.7,17],[104,20]]],
Cambodia:[[[102.5,12],[105.5,14.5],[107.5,14.5],[107.5,12.5],[104.8,10.4]]],
Malaysia:[[[100.5,6.5],[102,6],[103.5,4.5],[104.2,1.4],[101.3,2.8]],[[109.6,2],[113,3.2],[116.7,7],[119,5.2],[117.5,4.2],[115,2.5],[111.5,1],[109,1.5]]],
Indonesia:[[[109,1.5],[111.5,1],[115,2.5],[117.5,4.2],[118,1],[116.5,-3.5],[114.5,-4],[110.3,-3],[109,-0.5]],[[95.3,5.6],[97.5,5.2],[103.5,0],[106,-3],[105.8,-5.8],[102,-4],[98.5,1]],[[105.3,-6.8],[108.5,-6.5],[114.4,-7.8],[114.5,-8.7],[108,-7.8]],[[119.5,-5.5],[120,-3],[119.5,-0.5],[120.5,1],[125,1.5],[121,0.3],[123,-1],[121.5,-2],[123,-5],[121.5,-4.6],[120.5,-3],[120.5,-5.5]],[[116,-8.4],[119,-8.3],[123,-8.3],[120,-9],[116.5,-9]],[[124,-9.2],[127,-8.4],[124,-10.2]],[[127.5,2],[128.5,1.5],[128,-0.5],[127.5,0.5]],[[127.5,-3.2],[130.8,-3.2],[129,-3.7]],[[131,-0.8],[135,-3.3],[137.8,-1.6],[141,-2.6],[141,-9.1],[138,-8.4],[138,-6],[133,-4],[132.8,-2.8]]],
PNG:[[[141,-2.6],[145,-4.3],[147.8,-6],[147.2,-7],[150.8,-10.5],[147,-9.7],[143.5,-8.3],[141,-9.1]],[[148.5,-5.5],[152,-4.2],[150,-6.3]]],
Philippines:[[[120.5,18.5],[122.2,18.4],[122,16],[124,13],[121,13.7],[120,16]],[[122,7.5],[125.5,9.7],[126.5,7],[125.5,5.8],[124,7]],[[122,11.5],[125,12.5],[125,10.2],[123,9.5]],[[117.3,8.4],[119.5,11.3],[119,10]]],
Australia:[[[114,-22],[113.5,-26],[115,-31],[115,-34.3],[118,-35],[124,-33],[129,-31.6],[134,-32.7],[138,-35],[140.5,-38],[144,-38.5],[146.5,-39],[150,-37.3],[151.5,-33],[153.5,-28.5],[153,-25],[150,-22.5],[146,-19],[145.3,-15],[142.7,-10.8],[141.5,-13],[140.8,-17.5],[139,-17],[135.5,-15],[136.8,-12.2],[132,-11.2],[129.5,-14.9],[126,-14],[122,-18],[118,-20.3]],[[144.7,-40.7],[148.3,-40.9],[147.9,-43.2],[146,-43.5]]],
NewZealand:[[[172.7,-34.4],[175.5,-36.6],[178.5,-37.7],[176.8,-40],[175.3,-41.6],[174.8,-39.5],[174.5,-37]],[[172.7,-40.5],[174.3,-41.7],[172.8,-43.7],[170.5,-46],[167.5,-46.2],[168.5,-44.2],[171,-42.5]]],
Svalbard:[[[12,79],[18,77],[22,78],[27,80],[18,80.3]]]
};
const mapWater = [[[-92,46.8],[-88.5,48.5],[-85,47.9],[-84.7,46.6],[-87.5,46.5]],[[-87.8,42],[-86.3,42],[-85,45.7],[-87.5,45.7]],[[-84.5,46],[-80,45],[-81.7,43.1],[-83.5,43.6]],[[-83.4,41.6],[-79,42.8],[-81,42.7]],[[-79.7,43.3],[-76.2,43.6],[-76.5,44.1],[-79,43.8]],[[-124,66],[-118,66.5],[-119,65],[-123,65]],[[-117,61],[-109,62.7],[-112,62],[-115,60.9]],[[58.5,46.5],[61.5,46.5],[60,44],[58.5,44.5]]];
const islandSpecks = [[-90.6,-0.3],[178.6,-18],[167.6,-21],[159,-9],[162,-10.5],[-24,16],[-27,38],[-16,28],[57.5,-20],[55.5,-21],[73,3],[-172,-14],[-150,-17.5],[-145,-15],[-140,-9],[-157,21],[-158,21.5],[-61,15],[-61.5,12],[168,-16],[-5.7,-15.9],[-14.4,-7.9],[-37,-54.3],[70,-49.3]];
const legendDomain = [0,2574];

const svg = d3.select("#c");
function txt(x,y,s,o={}){const t=svg.append("text").attr("x",x).attr("y",y).attr("dy",".35em").text(s)
 .attr("font-size",o.size||13).attr("fill",o.fill||"#333").attr("text-anchor",o.anchor||"start");
 if(o.weight)t.attr("font-weight",o.weight); if(o.family)t.style("font-family",o.family); return t;}

// ---- table ----
txt(16,33,"Global Number",{size:21});
svg.append("rect").attr("x",12).attr("y",55).attr("width",450).attr("height",44).attr("fill","#b3b3b3");
svg.append("rect").attr("x",12).attr("y",100).attr("width",451).attr("height",35).attr("fill","#e6e6e6");
svg.append("rect").attr("x",12).attr("y",135).attr("width",451).attr("height",1.2).attr("fill","#c4c4c4");
const colRight=d3.scaleOrdinal().domain(tableHeaders).range([158,308,458]);
tableHeaders.forEach((h,i)=>{txt(colRight(h),78,h,{size:13,anchor:"end",fill:"#404040"});
 txt(colRight(h),118,tableValues[i],{size:17,anchor:"end",fill:"#555"});});

// ---- bars ----
txt(16,217,"Total Death Per Continent",{size:21});
txt(483,250,"Countinent",{size:12.5,anchor:"middle",fill:"#333"});
const bx=d3.scaleBand().domain(continents).range([89,878]).paddingInner(.25).paddingOuter(.125);
const by=d3.scaleLinear().domain([0,1000000]).range([465,272]);
const yAxisB=svg.append("g").attr("transform","translate(89,0)").call(d3.axisLeft(by).tickValues(barTicks).tickSize(-789).tickPadding(9).tickFormat(d=>d/1000+"K"));
yAxisB.select(".domain").remove();yAxisB.selectAll("line").attr("stroke","#f0f0f0");
yAxisB.selectAll(".tick").filter(d=>d===0).select("text").attr("y",-8);
svg.append("line").attr("x1",89).attr("x2",89).attr("y1",258).attr("y2",465).attr("stroke","#efefef");
const xAxisB=svg.append("g").attr("transform","translate(0,465)").call(d3.axisBottom(bx).tickSize(0).tickPadding(8));
xAxisB.select(".domain").attr("stroke","#f0f0f0");
xAxisB.selectAll("text").attr("y",9);
svg.append("g").selectAll("line").data(d3.range(continents.length+1)).join("line")
 .attr("x1",i=>bx.range()[0]+i*bx.step()).attr("x2",i=>bx.range()[0]+i*bx.step()).attr("y1",465).attr("y2",472).attr("stroke","#ececec");
svg.append("g").selectAll("rect").data(continents).join("rect")
 .attr("x",d=>bx(d)).attr("width",bx.bandwidth())
 .attr("y",(d,i)=>by(totalDeaths[i])).attr("height",(d,i)=>by(0)-by(totalDeaths[i]))
 .attr("fill","#4e79a7");
svg.append("text").attr("class","wide").attr("transform","translate(29,361) rotate(-90)").attr("text-anchor","middle").attr("dy",".35em").text("Total Death Count");

// ---- map ----
txt(889,31,"Percent Population Infected per country",{size:16.9,weight:700,fill:"#333"});
svg.append("rect").attr("x",885.5).attr("y",50.5).attr("width",865).attr("height",435).attr("fill","#fff").attr("stroke","#e6e6e6");
const defs=svg.append("defs");
defs.append("clipPath").attr("id","mapclip").append("rect").attr("x",886).attr("y",51).attr("width",864).attr("height",434);
const proj=d3.geoMercator().scale(104.6).translate([1317,336]);
const ring=d3.line().x(d=>proj(d)[0]).y(d=>proj(d)[1]).curve(d3.curveLinearClosed);
const stops=[0,.15,.25,.35,.45,.5,.6,.7,.85,1];
const stopColors=["#b5325a","#d4455b","#e96a63","#f59a85","#fcd8d2","#ffffff","#c5dded","#9cc7e2","#6aa0c8","#3f73a6"];
const mapColor=d3.scaleLinear().domain(stops.map(s=>s*legendDomain[1])).range(stopColors);
const mapG=svg.append("g").attr("clip-path","url(#mapclip)");
mapG.selectAll("path.c").data(Object.keys(countryRings)).join("path").attr("class","c")
 .attr("d",k=>countryRings[k].map(r=>ring(r)).join(""))
 .attr("fill",k=>countryValues[k]<0?"#f1f1f1":mapColor(countryValues[k]))
 .attr("stroke",k=>countryValues[k]<0?"none":"#6e6e6e").attr("stroke-width",.8).attr("stroke-linejoin","round");
mapG.selectAll("path.w").data(mapWater).join("path").attr("class","w").attr("d",ring).attr("fill","#fff").attr("stroke","#8a8a8a").attr("stroke-width",.5);
mapG.selectAll("circle").data(islandSpecks).join("circle").attr("cx",d=>proj(d)[0]).attr("cy",d=>proj(d)[1]).attr("r",.9).attr("fill","#b5b5b5");
svg.append("rect").attr("x",887).attr("y",468).attr("width",178).attr("height",16).attr("fill","#fff").attr("opacity",.7);
txt(892,477,"© 2022 Mapbox © OpenStreetMap",{size:11,fill:"#555",family:"Liberation Sans"});
// legend
txt(1759,26,"Percent Populatio..",{size:11.8});
const gr=defs.append("linearGradient").attr("id","ramp");
gr.selectAll("stop").data(stops).join("stop").attr("offset",d=>d).attr("stop-color",(d,i)=>stopColors[i]);
const legX=d3.scaleLinear().domain(legendDomain).range([1764,1866]);
svg.append("rect").attr("x",legX(0)).attr("y",36.5).attr("width",legX(2574)-legX(0)).attr("height",15).attr("fill","url(#ramp)").attr("stroke","#8f8f8f").attr("stroke-width",1.3);
svg.append("line").attr("x1",legX(1287)).attr("x2",legX(1287)).attr("y1",48).attr("y2",52).attr("stroke","#222");
txt(legX(0),63,d3.format(",")(legendDomain[0]),{size:13,fill:"#777"});
txt(legX(2574),63,d3.format(",")(legendDomain[1]),{size:13,fill:"#777",anchor:"end"});

// ---- lines ----
txt(16,515,"Percent Population Infected",{size:20.8});
const parse=d3.timeParse("%Y-%m");
const lx=d3.scaleTime().domain([new Date(2019,11,1),new Date(2021,9,1)]).range([68.5,1581.5]);
const ly=d3.scaleLinear().domain([0,20]).range([746,583]);
const allMonths=d3.timeMonth.range(new Date(2019,11,1),new Date(2021,10,1));
const labelFmt=d3.timeFormat("%B %Y");
const grid=svg.append("g").attr("transform","translate(67,0)").call(d3.axisLeft(ly).tickValues([0,10,20]).tickSize(-1588).tickPadding(7));
grid.select(".domain").remove();
grid.selectAll("line").attr("stroke","#f0f0f0");
grid.selectAll(".tick").filter(d=>d===0).select("line").attr("stroke","#bbb").attr("stroke-dasharray","1,2");
svg.append("line").attr("x1",67).attr("x2",67).attr("y1",537).attr("y2",757).attr("stroke","#efefef");
const xa=svg.append("g").attr("transform","translate(0,757)").call(d3.axisBottom(lx).tickValues(allMonths).tickSize(4).tickPadding(7).tickFormat(d=>d.getMonth()%2===1?labelFmt(d):""));
xa.select(".domain").attr("d","M67,0H1655").attr("stroke","#f0f0f0");
xa.selectAll("line").attr("stroke","#eaeaea");
xa.selectAll(".tick").filter((d,i)=>i===0).select("text").attr("text-anchor","start").attr("x",-1.5).attr("font-size",12.6).style("font-size","12.6px");
txt(860,799,"Month",{size:13,anchor:"middle",fill:"#444"});
svg.append("text").attr("class","wide").attr("transform","translate(29,645.5) rotate(-90)").attr("text-anchor","middle").attr("dy",".35em").text("Avg. Percent Population Infected");
const act=actualMonths.map(parse),est=forecastMonths.map(parse);
const area=d3.area().x((d,i)=>lx(est[i])).y0(d=>ly(d[0])).y1(d=>ly(d[1]));
const bandOf=(lo,hi)=>lo.map((v,i)=>[v,hi[i]]);
[[usLow,usHigh,lineColors[9]],[ukLow,ukHigh,lineColors[7]],[mexicoLow,mexicoHigh,lineColors[5]],[indiaLow,indiaHigh,lineColors[3]]].forEach(b=>{
 svg.append("path").attr("d",area(bandOf(b[0],b[1]))).attr("fill",b[2]).attr("fill-opacity",.3);});
const lA=d3.line().x((d,i)=>lx(act[i])).y(d=>ly(d));
const lE=d3.line().x((d,i)=>lx(est[i])).y(d=>ly(d));
[[usActual,8],[ukActual,6],[mexicoActual,4],[indiaActual,2],[chinaActual,0]].forEach(s=>{
 svg.append("path").attr("d",lA(s[0])).attr("fill","none").attr("stroke",lineColors[s[1]]).attr("stroke-width",3.5);});
[[usEst,9],[ukEst,7],[mexicoEst,5],[indiaEst,3],[chinaEst,1]].forEach(s=>{
 svg.append("path").attr("d",lE(s[0])).attr("fill","none").attr("stroke",lineColors[s[1]]).attr("stroke-width",3.5);});
txt(1098,643,"United States",{anchor:"middle"});txt(1097,661,"8.93",{anchor:"middle"});
txt(1122,724,"Mexico",{anchor:"middle"});txt(1121,742,"1.68",{anchor:"middle"});
txt(1614.5,561,"United States",{anchor:"middle"});txt(1614,579,"19.11",{anchor:"middle"});
txt(1609,616,"United Kingdom",{anchor:"middle"});txt(1608,634,"14.93",{anchor:"middle"});
txt(1605,711,"Mexico",{anchor:"middle"});txt(1604,729,"3.32",{anchor:"middle"});
// legend
txt(1664.5,507,"Location, Fore..",{size:11.6});
const lg=svg.append("g").selectAll("g").data(lineLegend).join("g").attr("transform",(d,i)=>`translate(1666,${517+20*i})`);
lg.append("rect").attr("width",14).attr("height",14).attr("fill",(d,i)=>lineColors[i]);
lg.append("text").attr("x",19).attr("y",7).attr("dy",".35em").attr("font-size",13).attr("fill","#888").text(d=>d);
// watermark
const wm=svg.append("g").attr("fill","#c8c8c8").attr("opacity",.55).style("pointer-events","none");
wm.append("text").attr("x",834).attr("y",764).attr("font-size",84).attr("font-weight",700).attr("textLength",181).attr("lengthAdjust","spacingAndGlyphs").style("font-family","DejaVu Sans").text("مستقل");
wm.append("text").attr("x",834).attr("y",799).attr("font-size",31).attr("font-weight",700).attr("textLength",183).attr("lengthAdjust","spacingAndGlyphs").style("font-family","Liberation Sans").text("mostaql.com");
</script></body></html>
